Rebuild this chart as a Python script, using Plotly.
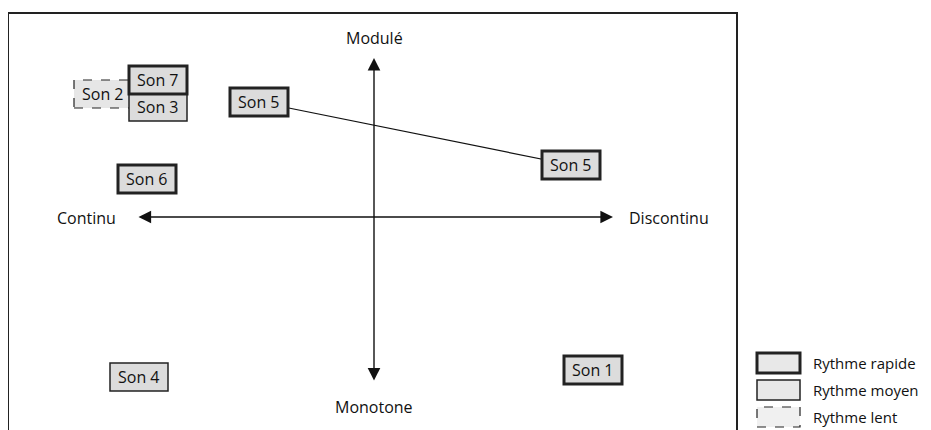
import plotly.graph_objects as go

# positions relative to the axis crossing (1 unit = 1 px), y up = "Modulé"
sons = ["Son 2", "Son 3", "Son 7", "Son 6", "Son 4", "Son 1", "Son 5", "Son 5"]
continuite = [-271, -216, -216, -227, -235, 219, -115, 197]
modulation = [123, 110, 137, 38, -160, -153, 115, 52]
rythme = ["lent", "moyen", "rapide", "rapide", "moyen", "rapide", "rapide", "rapide"]

legend_labels = ["Rythme rapide", "Rythme moyen", "Rythme lent"]
legend_keys = ["rapide", "moyen", "lent"]

FILL = "#dcdcdc"
BOX_STYLE = {
    "rapide": dict(width=3, dash="solid"),
    "moyen": dict(width=1.5, dash="solid"),
    "lent": dict(width=1.2, dash="dash"),
}
FONT = "Open Sans"

fig = go.Figure()

# link between the two "Son 5" boxes
i5 = [i for i, s in enumerate(sons) if s == "Son 5"]
fig.add_trace(go.Scatter(
    x=[continuite[i] for i in i5], y=[modulation[i] for i in i5],
    mode="lines", line=dict(color="#111", width=1.2),
    hoverinfo="skip", showlegend=False,
))

shapes = []
annotations = []

# frame
shapes.append(dict(type="rect", xref="x", yref="y", x0=-366, x1=363, y0=204, y1=-240,
                   line=dict(color="#222", width=2), fillcolor="rgba(0,0,0,0)", layer="below"))

hw, hh = 29, 14
for s, cx, cy, r in zip(sons, continuite, modulation, rythme):
    st = BOX_STYLE[r]
    shapes.append(dict(type="rect", xref="x", yref="y",
                       x0=cx - hw, x1=cx + hw, y0=cy - hh, y1=cy + hh,
                       fillcolor=FILL if r != "lent" else "#e6e6e6",
                       line=dict(color="#222", width=st["width"], dash=st["dash"]),
                       layer="above"))
    annotations.append(dict(x=cx, y=cy, xref="x", yref="y", text=s, showarrow=False,
                            font=dict(family=FONT, size=16, color="#111")))

# axes: double-headed arrows
for (x0, y0, x1, y1) in [(-237, 0, 239, 0), (0, -165, 0, 159)]:
    annotations.append(dict(x=x1, y=y1, ax=x0, ay=y0, xref="x", yref="y", axref="x", ayref="y",
                            text="", showarrow=True, arrowside="end+start",
                            arrowhead=2, startarrowhead=2, arrowsize=1.8, startarrowsize=1.8,
                            arrowwidth=1.4, arrowcolor="#111"))

pole_text = ["Modulé", "Monotone", "Continu", "Discontinu"]
pole_x = [0, 0, -288, 295]
pole_y = [179, -190, -1, -1]
for t, x, y in zip(pole_text, pole_x, pole_y):
    annotations.append(dict(x=x, y=y, xref="x", yref="y", text=t, showarrow=False,
                            font=dict(family=FONT, size=16, color="#111")))

# legend
for k, (lab, key) in enumerate(zip(legend_labels, legend_keys)):
    yc = -146 - 27 * k
    st = BOX_STYLE[key]
    shapes.append(dict(type="rect", xref="x", yref="y", x0=383, x1=426, y0=yc - 10, y1=yc + 10,
                       fillcolor="#e8e8e8" if key != "lent" else "#f0f0f0",
                       line=dict(color="#222", width=st["width"], dash=st["dash"])))
    annotations.append(dict(x=437, y=yc, xref="x", yref="y", text=lab, showarrow=False,
                            xanchor="left", font=dict(family=FONT, size=15, color="#111")))

# page body adds an 8 px offset, so the ranges are shifted by 8
fig.update_layout(
    width=931, height=430,
    margin=dict(l=0, r=0, t=0, b=0),
    paper_bgcolor="white", plot_bgcolor="white",
    xaxis=dict(range=[-366, 565], visible=False, fixedrange=True),
    yaxis=dict(range=[-221, 209], visible=False, fixedrange=True),
    shapes=shapes, annotations=annotations, showlegend=False,
)

fig.write_html("out.html")
